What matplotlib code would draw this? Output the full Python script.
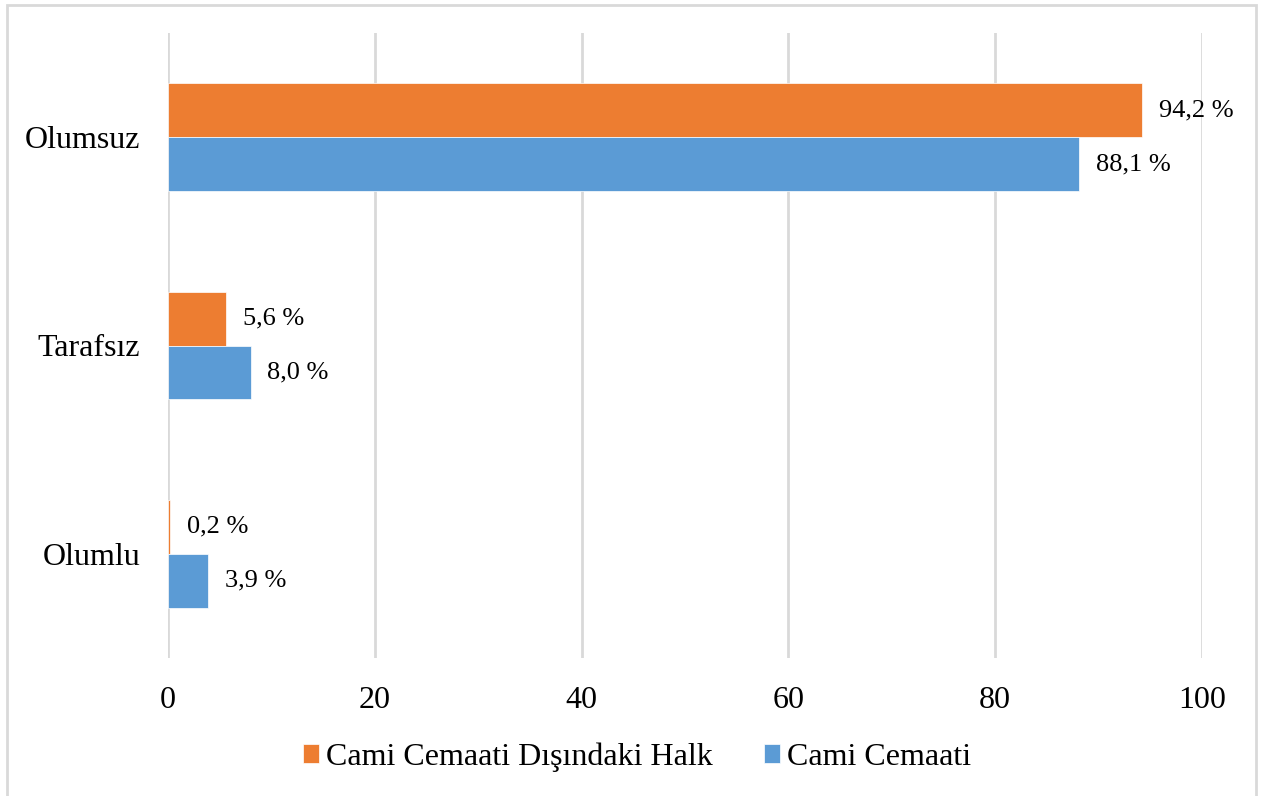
import matplotlib.pyplot as plt
from matplotlib.patches import Rectangle
import numpy as np

plt.rcParams['font.family'] = ['Liberation Serif', 'DejaVu Serif']

# Survey responses (%)
categories = ['Olumlu', 'Tarafsız', 'Olumsuz']
halk = [0.2, 5.6, 94.2]        # Cami Cemaati Dışındaki Halk
cemaat = [3.9, 8.0, 88.1]      # Cami Cemaati
series_names = ['Cami Cemaati Dışındaki Halk', 'Cami Cemaati']
ticks = [0, 20, 40, 60, 80, 100]

orange = '#ED7D31'
blue = '#5B9BD5'
grid_color = '#D9D9D9'

fig = plt.figure(figsize=(12.61, 7.96), dpi=100)
ax = fig.add_axes([168 / 1261, 1 - 658 / 796, 1034 / 1261, 625 / 796])

y = np.arange(len(categories))
h = 0.259
b1 = ax.barh(y + h / 2, halk, height=h, color=orange, label=series_names[0],
             edgecolor='white', linewidth=0.5, zorder=3)
b2 = ax.barh(y - h / 2, cemaat, height=h, color=blue, label=series_names[1],
             edgecolor='white', linewidth=0.5, zorder=3)

for bars, vals in ((b1, halk), (b2, cemaat)):
    for bar, v in zip(bars, vals):
        ax.annotate(f'{v:.1f} %'.replace('.', ','),
                    (bar.get_width(), bar.get_y() + bar.get_height() / 2),
                    xytext=(12, 0), textcoords='offset points',
                    ha='left', va='center', fontsize=19, color='black')

ax.set_xlim(0, 100)
ax.set_ylim(-0.5, 2.5)
ax.set_xticks(ticks)
ax.set_yticks(y)
ax.set_yticklabels(categories)
ax.tick_params(axis='both', length=0, labelsize=23)
ax.tick_params(axis='x', pad=20)
ax.tick_params(axis='y', pad=20)
ax.xaxis.grid(True, color=grid_color, linewidth=2, zorder=0)
for s in ax.spines.values():
    s.set_visible(False)

fig.legend(handles=[b1, b2], loc='center', bbox_to_anchor=(637 / 1261, 1 - 757 / 796),
           ncol=2, frameon=False, fontsize=23, handlelength=0.5, handleheight=0.53,
           handletextpad=0.22, columnspacing=1.6)

# outer chart border
fig.patches.append(Rectangle((7 / 1261, -0.05), 1249 / 1261, 1.05 - 5 / 796,
                             transform=fig.transFigure, fill=False,
                             edgecolor=grid_color, linewidth=2))

fig.savefig('out.png', dpi=100)
